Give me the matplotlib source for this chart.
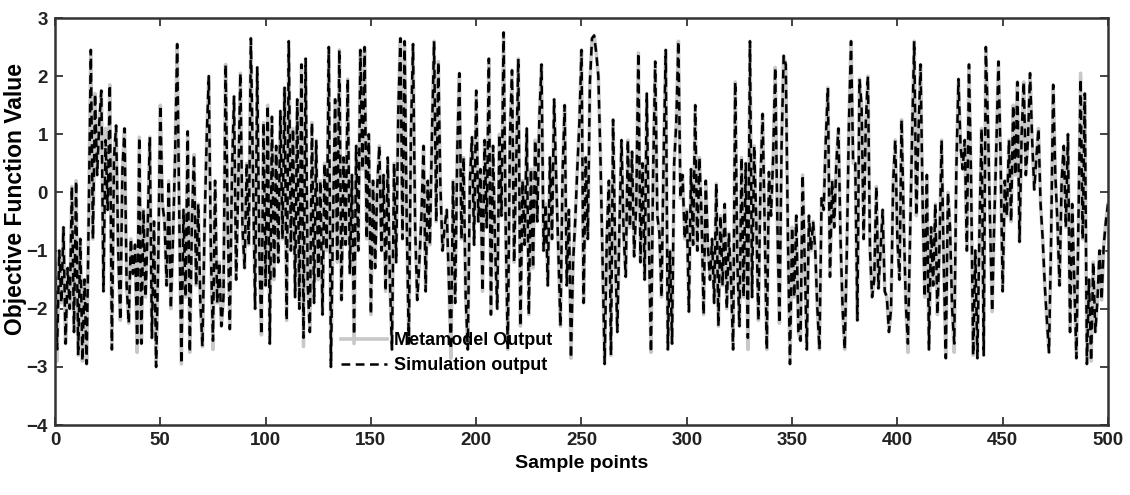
import numpy as np
import matplotlib
matplotlib.use("Agg")
import matplotlib.pyplot as plt

plt.rcParams['font.family'] = ['Liberation Sans', 'DejaVu Sans']

# simulation output, one value per sample point 0..500
simulation = [
    -1.2, -2.7, -1.0, -1.9, -0.6, -2.6, -1.3, -2.0, 0.1, -2.4,
    0.2, -2.8, -0.8, -2.9, -1.5, -2.95, -0.4, 2.45, -0.8, 1.7,
    0.3, 1.2, 1.75, -1.7, 0.9, -0.3, 1.85, -2.7, 0.6, 1.15,
    -1.0, -2.2, 0.4, 1.1, -1.6, -2.25, -0.8, -1.4, -0.9, -2.6,
    0.95, -2.6, -0.3, -1.8, -0.6, 0.95, -2.5, -0.5, -3.0, -1.2,
    1.5, -0.2, -0.5, -1.6, 0.2, -2.0, -0.8, 0.6, 2.55, -0.4,
    -2.95, -0.3, -1.8, 1.05, -2.75, -0.5, 0.65, -1.6, -0.2, -1.9,
    -2.65, -0.6, 0.9, 2.0, -1.0, -2.55, 0.2, -1.9, -1.2, -2.3,
    -1.8, 2.2, -0.5, -2.35, 0.3, 1.65, -1.5, 0.1, 2.05, -0.6,
    -1.3, 0.5, -0.9, 2.65, 0.3, -2.0, 2.15, -1.0, -2.45, 1.2,
    -1.6, 1.5, -2.6, 1.3, -1.5, 0.8, -1.2, 1.4, -0.8, 1.8,
    -2.2, 2.6, -1.0, 1.1, -1.8, 1.6, -2.0, 2.2, -2.5, 2.3,
    -1.6, -2.4, 1.2, -1.9, 0.9, -1.5, 0.2, -2.1, 0.5, -1.0,
    2.5, -3.0, -0.5, 1.6, -1.2, 2.45, -1.85, 0.6, -0.9, 1.95,
    -1.4, 0.3, -2.45, 0.8, -1.0, 2.45, 0.4, 2.5, -0.8, 1.0,
    -2.1, 0.2, -1.3, 0.1, 0.8, -1.0, 0.3, -1.7, 0.6, -1.5,
    -2.7, 0.5, -1.2, 1.4, 2.65, -0.8, 2.6, -0.5, -2.6, 1.0,
    2.55, -0.6, -1.85, -1.2, -0.4, 0.8, -1.7, 0.2, -0.9, 1.0,
    2.6, -0.5, 2.25, 0.1, -1.0, -0.6, -0.3, -1.5, -2.7, 0.2,
    -1.9, 0.7, 2.05, -0.8, 0.6, -1.8, -2.7, 0.2, 0.95, -0.9,
    1.75, -0.5, 0.4, -1.7, 0.9, -0.6, 2.3, -2.1, 0.8, -1.0,
    -2.0, 1.0, -0.4, 2.75, -0.6, -2.7, 0.9, 2.1, -1.2, 0.5,
    2.3, -2.3, 0.2, -0.9, 1.1, -2.1, 0.4, -1.3, 0.9, -0.5,
    1.3, 2.2, -1.0, -0.2, -1.6, 0.6, -0.8, 1.6, 0.2, -1.0,
    -2.3, 0.3, 1.5, -1.6, -0.3, -2.85, -1.2, -0.5, 0.4, 1.2,
    2.45, -1.9, 0.6, -0.8, 1.9, 2.65, 2.7, 2.4, 2.0, 0.6,
    -1.2, -2.95, -0.8, 0.2, -2.8, 1.25, -1.0, -2.4, -0.6, 0.9,
    -0.7, -1.45, 0.9, -0.6, 0.7, -1.1, -0.2, 2.4, -1.2, 0.5,
    -1.5, 1.7, -0.8, -2.75, 0.3, 2.25, -0.4, -0.7, -1.8, 0.6,
    2.45, -2.7, -1.0, -2.6, 0.5, 1.2, 2.6, -0.1, 0.3, -0.8,
    -0.3, -2.05, 0.4, -0.9, 1.5, -1.0, 0.6, -0.4, -2.1, 0.2,
    -0.9, -1.5, -0.8, -1.9, 0.15, -2.3, -0.4, -1.6, -0.2, -2.0,
    -0.7, -1.5, -2.7, 1.9, -1.2, -2.3, 0.6, -1.8, 0.5, -2.5,
    2.6, -1.8, 0.8, -0.5, -2.2, 0.2, 1.35, -0.6, -2.7, 0.35,
    -0.4, 0.6, 2.15, -0.5, -2.25, 0.8, 2.35, 2.2, -0.7, -2.95,
    -0.6, -1.8, -0.4, -2.4, -2.55, 0.3, -1.2, -2.7, -0.4, -1.0,
    -0.5, -1.0, -2.0, -2.7, -0.1, -0.3, 0.9, 1.8, -1.45, 0.2,
    -0.6, 0.5, 1.1, -0.8, -2.0, -2.7, -1.0, 1.2, 2.6, 0.5,
    0.5, -2.2, 1.95, 1.5, -0.8, 1.2, 2.0, -1.0, -1.8, -1.5,
    0.1, -1.65, -1.0, -0.3, -1.7, -1.8, -2.4, -2.0, 0.2, 0.9,
    -0.8, -1.5, 1.25, -0.5, -1.9, -2.6, -0.8, 1.0, 2.6, -0.4,
    1.0, 2.2, -0.2, -1.8, 0.3, -2.7, -0.6, -1.6, -0.2, -2.1,
    -0.9, 0.9, -1.2, -2.85, 0.0, -0.6, -2.0, -2.6, 0.4, 1.95,
    0.8, 0.4, 0.9, -1.0, 2.2, 0.2, -2.8, -1.0, -2.85, -0.6,
    1.1, -2.8, 2.5, 1.2, -0.5, -2.05, -0.5, 0.8, 2.25, 0.6,
    -1.7, 0.2, -0.4, 0.9, -0.5, 1.5, 0.3, 1.9, -0.85, 1.0,
    1.9, 0.3, 0.9, 2.05, 0.9, 0.05, 0.6, 1.1, -0.2, -0.8,
    -1.6, -2.2, -2.75, -0.8, 1.85, 0.3, -0.5, -1.6, 0.2, 0.8,
    -0.6, 1.0, -2.4, -0.2, -1.5, -2.85, -0.5, 1.95, -0.8, 1.7,
    -2.95, -1.5, -2.9, -1.2, -2.4, -1.85, -1.0, -1.85, -0.9, -0.5,
    -0.2,
]

# metamodel output is the same except at a few points where the grey line shows past the black one
metamodel_diff = {1: -2.9, 24: 1.1, 39: -2.75, 75: -2.7, 118: -2.65, 142: -2.6,
                  188: -2.85, 329: -2.7, 405: -2.75, 427: -2.75, 487: 2.05}

samples = np.arange(len(simulation))
metamodel = list(simulation)
for i, v in metamodel_diff.items():
    metamodel[i] = v

fig = plt.figure(figsize=(11.3, 4.95), dpi=100)
ax = fig.add_axes([0.0487, 0.1414, 0.9318, 0.8222])

ax.plot(samples, metamodel, color='#c8c8c8', lw=2.6, label='Metamodel Output')
ax.plot(samples, simulation, color='black', lw=1.8, ls=(0, (3.5, 2.2)), label='Simulation output')

ax.set_xlim(0, 500)
ax.set_ylim(-4, 3)
ax.set_xticks(np.arange(0, 501, 50))
ax.set_yticks(np.arange(-4, 4, 1))
ax.tick_params(direction='in', length=6, width=1.2, top=True, right=True,
               labelsize=13.5, pad=5, colors='#222222')
for lab in ax.get_xticklabels() + ax.get_yticklabels():
    lab.set_fontweight('bold')
for sp in ax.spines.values():
    sp.set_linewidth(1.8)
    sp.set_color('#333333')

ax.set_xlabel('Sample points', fontsize=14, fontweight='bold', labelpad=4)
ax.set_ylabel('Objective Function Value', fontsize=16.5, fontweight='bold')
ax.yaxis.set_label_coords(-0.027, 0.555)

leg = ax.legend(loc='upper left', bbox_to_anchor=(0.272, 0.228), frameon=False,
                handlelength=2.5, handletextpad=0.4, borderpad=0, borderaxespad=0,
                labelspacing=0.45, prop={'weight': 'bold', 'size': 13})

fig.savefig('out.png', dpi=100)
